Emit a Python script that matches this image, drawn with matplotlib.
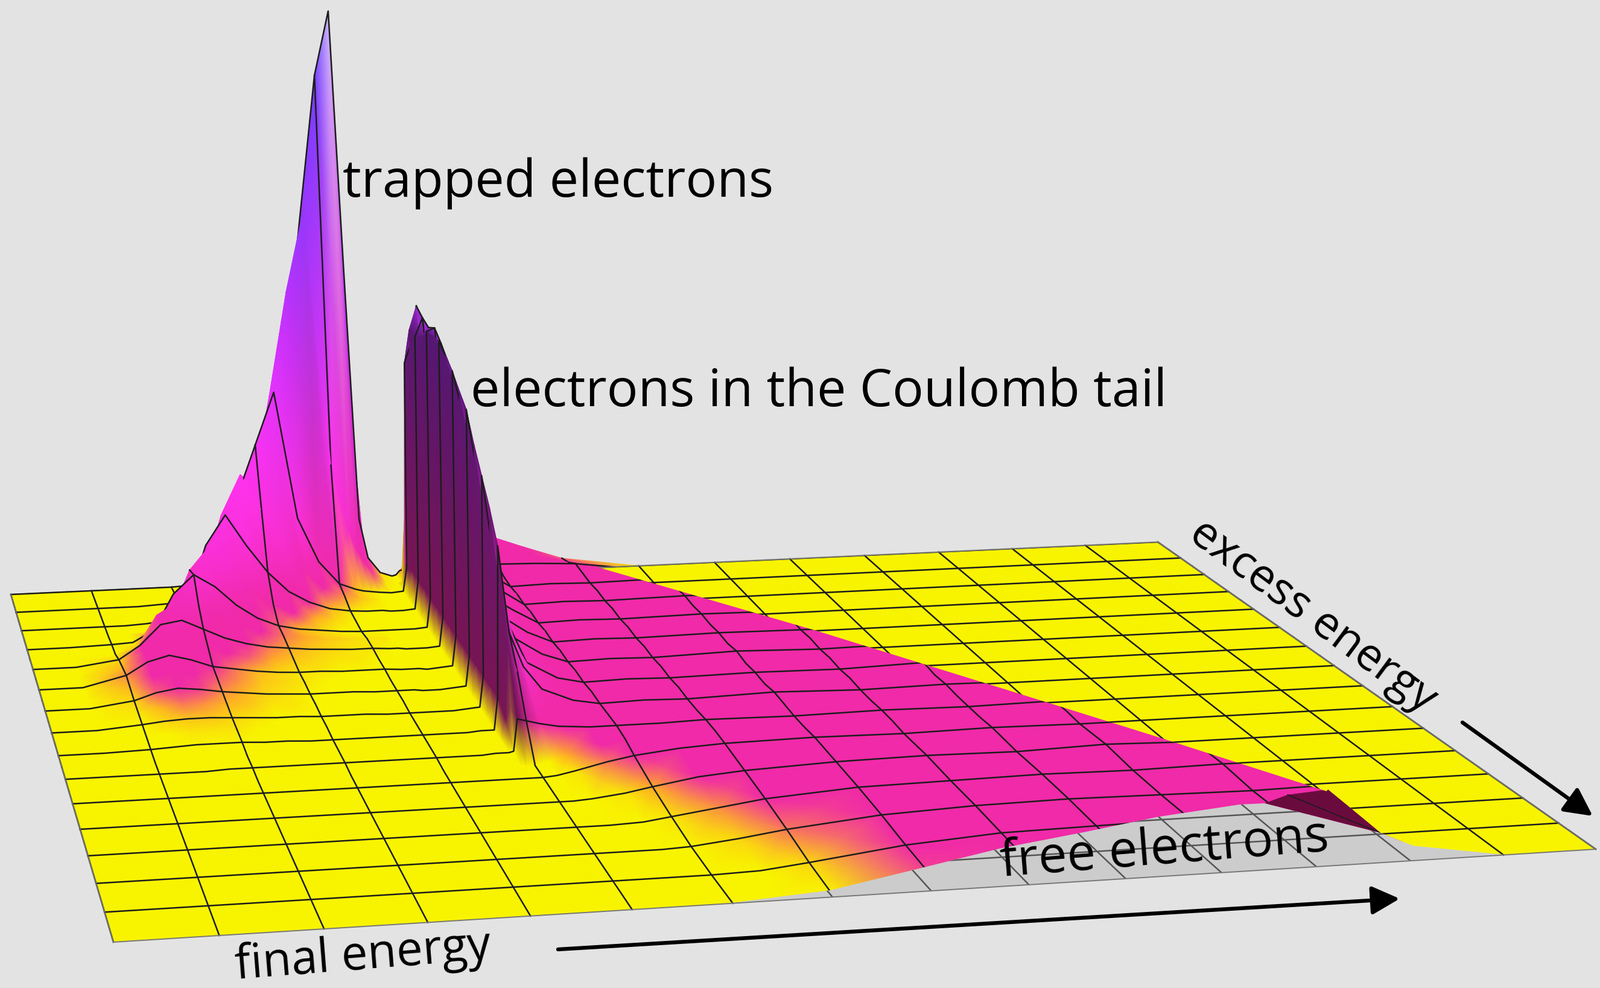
import numpy as np
import matplotlib
matplotlib.use('Agg')
import matplotlib.pyplot as plt
from matplotlib.patches import Polygon

plt.rcParams['font.family'] = ['Open Sans', 'DejaVu Sans']

W, H = 2652, 1637

# floor axes, in grid cells
final_energy = [0,.5,1,1.25,1.5,1.75,2,2.25,2.5,2.75,3,3.25,3.5,3.75,4,4.2,4.3,4.4,4.5,4.65,4.8,4.85,4.9,
                5,5.15,5.35,5.7,6,6.5,7,8,9,10,11,12,13,14,15]
excess_energy = [0,1,2,3,4,5,5.5,6,6.5,7,7.5,8,8.5,9,9.5,10,10.5,11,11.5,12,12.5,13,13.5,14,14.5,15]

# height, one row per excess energy
heights = [
    [0]*29+[2,12,18,20,21,20,15,0,0],
    [0]*28+[1,5,14,19,20,21,20,20,8,0],
    [0]*27+[1,5,10,17,20,21,20,19,20,10,0],
    [0]*26+[1,4,9,14,19,20,21,20,21,20,15,0],
    [0]*25+[1,4,8,14,17,20,21,20,22,20,20,8,0],
    [0]*24+[1,4,10,14,18,20,21,20,21,20,20,20,5,0],
    [0]*24+[3,8,15,18,20,21,20,21,20,21,20,16,2,0],
    [0,0,0,0,0,1,1,1,1,1,1,1,1,1,1,1,1,1,1,2,2]+[3,30,28,25,22,20]+[20,20,21,20,21,20,21,20,12,0,0],
    [0,0,0,0,1,1,1,1,1,1,1,1,1,1,1,1,1,1,1,2,2]+[20,85,60,40,30,22]+[20,21,20,21,20,20,22,20,8,0,0],
    [0,0,1,2,3,3,3,2,2,1,1,1,1,1,1,1,1,1,1,2,2]+[30,160,85,55,35,24]+[20,21,20,22,20,21,20,20,5,0,0],
    [0,0,2,3,4,4,4,3,2,2,2,1,1,1,1,1,1,1,1,2,3]+[30,185,110,65,38,24]+[21,20,21,20,21,20,21,20,3,0,0],
    [0,0,3,5,6,6,5,4,3,3,2,2,2,1,1,1,1,1,1,2,3]+[30,205,140,75,40,25]+[20,21,20,21,20,22,20,15,0,0,0],
    [0,0,4,7,10,9,7,6,4,4,3,3,2,2,2,1,1,1,1,2,3]+[30,225,165,85,42,26]+[21,20,21,20,21,20,20,10,0,0,0],
    [0,0,5,11,14,12,9,7,5,4,3,3,3,2,2,2,1,1,1,2,3]+[30,249,195,100,45,28]+[20,21,20,22,20,21,20,8,0,0,0],
    [0,0,7,16,20,16,11,9,6,5,4,3,3,3,2,2,2,1,1,2,3]+[30,259,215,110,47,30]+[21,20,21,20,21,20,20,4,0,0,0],
    [0,0,9,20,25,20,13,10,7,5,4,4,3,3,3,2,2,2,1,2,3]+[30,270,235,120,48,30]+[20,21,20,21,20,20,15,0,0,0,0],
    [0,0,7,20,32,30,21,15,11,8,6,5,4,4,3,3,2,2,2,2,3]+[30,278,250,125,50,32]+[21,20,21,20,21,20,12,0,0,0,0],
    [0,0,5,17,35,38,29,20,14,10,8,6,5,4,4,3,3,2,2,2,3]+[30,284,265,135,50,33]+[20,21,20,21,20,21,10,0,0,0,0],
    [0,0,1,6,35,46,42,30,21,15,10,8,6,5,4,4,3,3,2,2,3]+[30,282,275,140,50,34]+[21,20,21,20,21,15,7,0,0,0,0],
    [0,0,1,2,12,45,62,50,32,19,11,7,5,3,2,2,2,2,2,2,3]+[30,280,283,145,50,35]+[20,21,20,21,20,14,5,0,0,0,0],
    [0,0,0,1,3,15,58,80,58,36,22,13,8,5,3,3,2,2,2,2,3]+[30,268,277,140,50,35]+[21,20,21,20,18,8,2,0,0,0,0],
    [0,0,0,0,1,3,15,72,100,70,44,25,14,7,4,3,3,3,2,2,3]+[30,262,280,140,48,34]+[20,21,20,21,18,5,0,0,0,0,0],
    [0,0,0,0,1,2,5,25,92,130,95,60,35,18,9,6,5,4,3,2,3]+[30,262,285,140,48,32]+[21,20,21,20,14,2,0,0,0,0,0],
    [0,0,0,0,0,1,2,5,30,100,150,200,78,35,13,7,5,4,3,2,3]+[25,224,245,120,42,30]+[25,24,22,12,4,0,0,0,0,0,0],
    [0,0,0,0,0,0,1,2,5,30,90,190,290,370,120,55,35,22,12,4,2]+[3,20,40,42,40,38,32,24,15,0,0,0,0,0,0,0,0],
    [0,0,0,0,0,0,0,1,3,5,30,80,200,350,495,558,300,58,20,5,1]+[2,6,8,15,28,40,38,24,11,0,0,0,0,0,0,0,0],
]

# outlines of the flat floor pieces that lie in front of / behind the surface
back_floor_u = [7.48,9.42,11,11.97,13.05,13.09,13.08,13.06,13.22,13.99,15,15]
back_floor_v = [15,11,7.45,5.25,2.70,2.76,2.10,1.03,.51,.02,0,15]
grey_floor_u = [5.9,7.03,7.98,9.06,10.09,10.99,11.98,12.25,13.06,13.22,13.99,14]
grey_floor_v = [0,.23,.73,1.31,1.72,2.11,2.39,2.38,1.03,.51,.02,0]
end_face_u = [12.25,12.6,13.09,13.08,13.06]
end_face_v = [2.38,2.65,2.76,2.10,1.03]

height_stops = [0,3,8,13,30,70,130,200,300,420,520,558]
stop_colours = ['#f8f400','#f8f400','#ffa828','#f02aa8','#f02aa8','#fa30d8','#ff32f0','#e433ff',
                '#b432ff','#7a3cff','#7040ff','#c8b8ff']
wall_shade = {4.85:.5, 4.9:.45, 5:.8}

# camera: floor corners on the image
corners_uv = [(0,15),(0,0),(15,0),(15,15)]
corners_px = [(18,985),(188,1561),(2645,1407),(1919,898)]
A = []
b = []
for (u,v),(x,y) in zip(corners_uv,corners_px):
    A.append([u,v,1,0,0,0,-u*x,-v*x]); b.append(x)
    A.append([0,0,0,u,v,1,-u*y,-v*y]); b.append(y)
h = np.linalg.solve(np.array(A,float),np.array(b,float))

def project(u,v,z=0):
    u = np.asarray(u,float)
    v = np.asarray(v,float)
    w = h[6]*u+h[7]*v+1
    zs = np.asarray(z,float)*1.691*1.34/w
    return (h[0]*u+h[1]*v+h[2])/w-.03*zs, (h[3]*u+h[4]*v+h[5])/w-zs

def colours(z):
    rgb = np.array([matplotlib.colors.to_rgb(c) for c in stop_colours])
    return np.dstack([np.interp(z,height_stops,rgb[:,i]) for i in range(3)])

fig = plt.figure(figsize=(W/200,H/200),dpi=200,facecolor='#e3e3e3')
ax = fig.add_axes([0,0,1,1])
ax.set_xlim(0,W)
ax.set_ylim(H,0)
ax.axis('off')

U,V = np.meshgrid(final_energy,excess_energy)
Z = np.array(heights,float)
X,Y = project(U,V,Z)
C = colours(Z)
for u,f in wall_shade.items():
    j = final_energy.index(u)
    wall = (V[:,j]>=6)&(V[:,j]<=14)&(Z[:,j]>=5)
    C[wall,j] *= f

LINE = '#1c1c1c'
LW = .9
order = 5
whole = [i for i,u in enumerate(final_energy) if float(u).is_integer()]
ax.plot(*project([0,5],[15,15]),color='#777777',lw=.7,zorder=order)
for k in range(len(excess_energy)-2,-1,-1):
    order += 1
    ax.pcolormesh(X[k:k+2],Y[k:k+2],C[k:k+2],shading='gouraud',zorder=order)
    for j in whole:
        ax.plot(X[k:k+2,j],Y[k:k+2,j],color=LINE,lw=LW,zorder=order+.5)
    if float(excess_energy[k+1]).is_integer():
        end = final_energy.index(5)+1 if excess_energy[k+1]==15 else None
        ax.plot(X[k+1][:end],Y[k+1][:end],color=LINE,lw=LW,zorder=order+.6)

# flat pieces on top of the surface
order += 1
ax.add_patch(Polygon(np.c_[project(end_face_u,end_face_v)],closed=True,fc='#6a0b3e',ec='none',zorder=order))
ax.plot(*project([12.6,13.06],[2.65,1.03]),color=LINE,lw=.6,zorder=order+.1)
order += 1
for us,vs,fc,lc in [(back_floor_u,back_floor_v,'#f8f400',LINE),(grey_floor_u,grey_floor_v,'#cccccc','#555555')]:
    patch = Polygon(np.c_[project(us,vs)],closed=True,fc=fc,ec='none',zorder=order)
    ax.add_patch(patch)
    for i in range(1,16):
        a, = ax.plot(*project([i,i],[0,15]),color=lc,lw=LW,zorder=order+.1)
        a.set_clip_path(patch)
        a, = ax.plot(*project([0,15],[i,i]),color=lc,lw=LW,zorder=order+.1)
        a.set_clip_path(patch)
    order += 1
ax.plot(*project([7.48,15,15,0,0],[15,15,0,0,15]),color='#777777',lw=.7,zorder=order)

order += 1
texts = [('trapped electrons',568,326,0,31),('electrons in the Coulomb tail',780,673,0,31),
         ('final energy',392,1622,4.5,28),('free electrons',1660,1452,4.5,30.5),('excess energy',1968,892,-36.5,27)]
for s,x,y,r,fs in texts:
    ax.text(x,y,s,rotation=r,rotation_mode='anchor',fontsize=fs,color='black',ha='left',va='baseline',zorder=order)
for p,q in [((925,1573),(2320,1489)),((2424,1197),(2640,1352))]:
    ax.annotate('',xy=q,xytext=p,zorder=order,
                arrowprops=dict(arrowstyle='-|>,head_width=.24,head_length=.47',color='black',lw=2.3,mutation_scale=30,shrinkA=0,shrinkB=0))

fig.savefig('out.png',dpi=200,facecolor=fig.get_facecolor())
